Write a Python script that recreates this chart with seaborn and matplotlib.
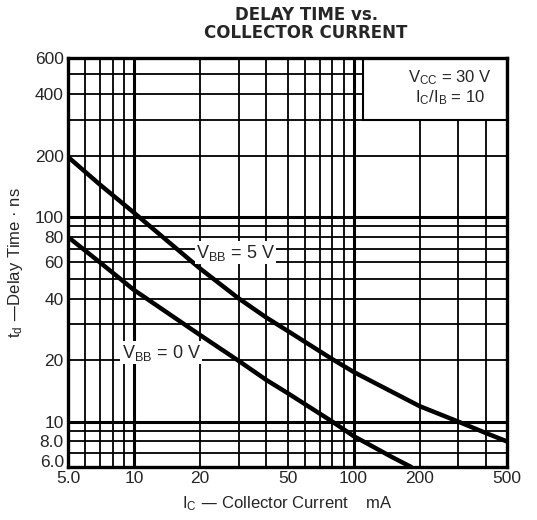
import numpy as np
import pandas as pd
import matplotlib.pyplot as plt
import matplotlib.transforms as mtransforms
import seaborn as sns
from matplotlib.patches import Rectangle

# %%
# curve readings (mA, ns)
ic_5v = [5, 7, 10, 20, 30, 40, 50, 80, 100, 200, 300, 400, 500]
td_5v = [197, 144, 105, 56, 40, 32.3, 27.8, 20.2, 17.5, 11.9, 10.0, 8.8, 8.0]
ic_0v = [5, 7, 10, 20, 30, 40, 50, 80, 100, 150, 183]
td_0v = [80, 60, 44, 26.5, 19.8, 16.0, 13.8, 10.0, 8.5, 6.7, 6.0]

x_ticks = [5, 10, 20, 50, 100, 200, 500]
x_ticklabels = ['5.0', '10', '20', '50', '100', '200', '500']
y_ticks = [6, 8, 10, 20, 40, 60, 80, 100, 200, 400, 600]
y_ticklabels = ['6.0', '8.0', '10', '20', '40', '60', '80', '100', '200', '400', '600']

x_grid = [6, 7, 8, 9, 10, 20, 30, 40, 50, 60, 70, 80, 90, 100, 200, 300, 400]
y_grid = [7, 8, 9, 10, 20, 30, 40, 50, 60, 70, 80, 90, 100, 200, 300, 400, 500]

df = pd.concat([
    pd.DataFrame({'ic': ic_5v, 'td': td_5v, 'vbb': '5 V'}),
    pd.DataFrame({'ic': ic_0v, 'td': td_0v, 'vbb': '0 V'}),
], ignore_index=True)

# %%
sns.set_style("white")
plt.rcParams['font.family'] = ['Liberation Sans', 'DejaVu Sans']

fig = plt.figure(figsize=(5.37, 5.2), dpi=100)
ax = fig.add_axes([0.1266, 0.1019, 0.8176, 0.7866])
ax.set_xscale('log')
ax.set_yscale('log')
ax.set_xlim(5, 500)
ax.set_ylim(6, 600)

# grid, decades drawn heavier
for xv in x_grid:
    ax.axvline(xv, color='black', lw=2.2 if xv in (10, 100) else 1.3, zorder=1)
for yv in y_grid:
    ax.axhline(yv, color='black', lw=2.2 if yv in (10, 100) else 1.3, zorder=1)

# conditions box in the upper right
ax.add_patch(Rectangle((110, 300), 390, 300, facecolor='white', edgecolor='black',
                       lw=1.5, zorder=2))
ax.text(0.87, 0.951, '$\\mathregular{V_{CC}}$ = 30 V', transform=ax.transAxes,
        ha='center', va='center', fontsize=12, zorder=3)
ax.text(0.87, 0.902, '$\\mathregular{I_C/I_B}$ = 10', transform=ax.transAxes,
        ha='center', va='center', fontsize=12, zorder=3)

sns.lineplot(data=df, x='ic', y='td', units='vbb', estimator=None, color='black',
             lw=3.2, ax=ax, zorder=4, legend=False)

ax.text(29, 67, '$\\mathregular{V_{BB}}$ = 5 V', ha='center', va='center', fontsize=13,
        zorder=5, bbox=dict(facecolor='white', edgecolor='none', pad=1))
ax.text(13.3, 21.7, '$\\mathregular{V_{BB}}$ = 0 V', ha='center', va='center', fontsize=13,
        zorder=5, bbox=dict(facecolor='white', edgecolor='none', pad=1))

ax.set_xticks(x_ticks)
ax.set_xticklabels(x_ticklabels)
ax.set_yticks(y_ticks)
ax.set_yticklabels(y_ticklabels)
ax.minorticks_off()
ax.tick_params(labelsize=12.5, length=0, pad=3)
# lift the 6.0 label a little so it clears the 5.0 below it
lift = mtransforms.ScaledTranslation(0, 4 / 72, fig.dpi_scale_trans)
lbl = ax.get_yticklabels()[0]
lbl.set_transform(lbl.get_transform() + lift)
for s in ax.spines.values():
    s.set_linewidth(2.4)
    s.set_color('black')
    s.set_zorder(6)

ax.set_xlabel('$\\mathregular{I_C}$ — Collector Current    mA', fontsize=12, labelpad=6)
ax.set_ylabel('$\\mathregular{t_d}$ —Delay Time · ns', fontsize=12, labelpad=7)

fig.text(0.57, 0.953, 'DELAY TIME vs.\nCOLLECTOR CURRENT', ha='center', va='center',
         fontsize=12, fontweight='bold', linespacing=1.0, family='DejaVu Sans')

fig.savefig('out.png', dpi=100)
